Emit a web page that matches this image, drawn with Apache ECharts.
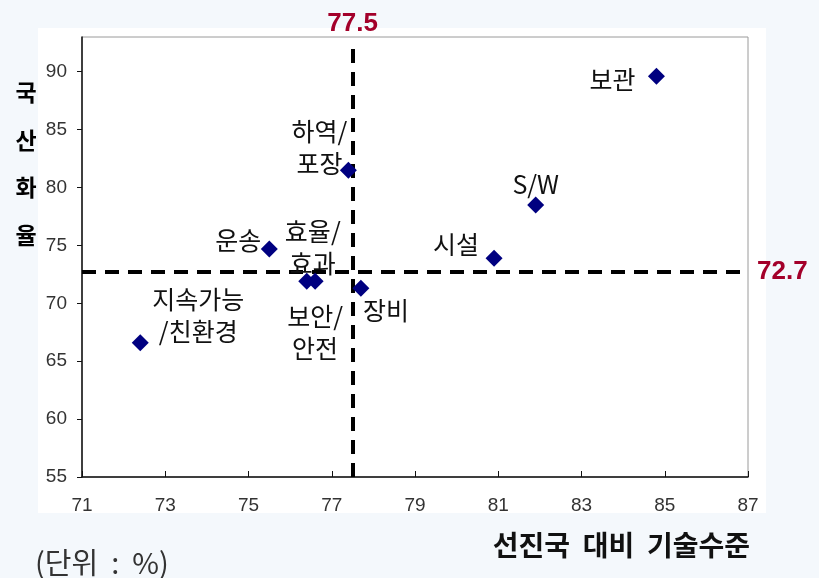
<!DOCTYPE html>
<html>
<head>
<meta charset="utf-8">
<script src="https://cdn.jsdelivr.net/npm/echarts@6/dist/echarts.min.js"></script>
<style>
  html, body { margin: 0; padding: 0; background: #f4f8fc; }
  #panel { position: absolute; left: 38px; top: 28px; width: 728px; height: 485px; background: #ffffff; }
  #chart { position: absolute; left: 0; top: 0; width: 819px; height: 578px; }
</style>
</head>
<body>
<div id="panel"></div>
<div id="chart"></div>
<script>
// ---- data ----
const names = ['보관', 'S/W', '시설', '하역/\n포장', '운송', '효율/\n효과', '보안/\n안전', '장비', '지속가능\n/친환경'];
const techLevel = [84.8, 81.9, 80.9, 77.4, 75.5, 76.4, 76.6, 77.7, 72.4];     // 선진국 대비 기술수준
const localization = [89.6, 78.5, 73.9, 81.5, 74.7, 71.9, 71.9, 71.3, 66.6];  // 국산화율
const avgTech = 77.5;
const avgLocal = 72.7;
const xTicks = { min: 71, max: 87, step: 2 };
const yTicks = { min: 55, max: 93, step: 5 };

// ---- label placement (style only) ----
const labelOffsets = [[-44, 3], [0, -20], [-38, -14], [-29, -23], [-31, -8], [6, -34], [0, 51], [25, 22], [58, -27]];

const KR = '"Noto Sans CJK KR", "Noto Sans", sans-serif';
const NUM = '"Liberation Sans", Arial, sans-serif';
const RED = '#a3002a';

const chart = echarts.init(document.getElementById('chart'), null, { renderer: 'canvas' });

const points = names.map((n, i) => ({
  name: n,
  value: [techLevel[i], localization[i]],
  label: { offset: labelOffsets[i] }
}));

chart.setOption({
  backgroundColor: 'transparent',
  animation: false,
  grid: { left: 82, top: 37, right: 71, bottom: 101, show: true, borderColor: '#9a9a9a', borderWidth: 1, backgroundColor: 'transparent' },
  xAxis: {
    type: 'value', min: xTicks.min, max: xTicks.max, interval: xTicks.step,
    axisLine: { show: true, onZero: false, lineStyle: { color: '#111', width: 1.5 } },
    axisTick: { show: true, inside: true, length: 6, lineStyle: { color: '#111' } },
    axisLabel: { margin: 19, fontSize: 19, color: '#333', fontFamily: NUM, showMaxLabel: true, showMinLabel: true },
    splitLine: { show: false }
  },
  yAxis: {
    type: 'value', min: yTicks.min, max: yTicks.max, interval: yTicks.step,
    axisLine: { show: true, onZero: false, lineStyle: { color: '#111', width: 1.5 } },
    axisTick: { show: true, inside: false, length: 5, lineStyle: { color: '#111' } },
    axisLabel: { margin: 15, fontSize: 19, color: '#333', fontFamily: NUM, showMaxLabel: false },
    splitLine: { show: false }
  },
  graphic: [
    { type: 'text', x: 26, y: 164, style: { text: '국\n산\n화\n율', font: 'bold 23px ' + KR, fill: '#000', textAlign: 'center', textVerticalAlign: 'middle', lineHeight: 47.5 } },
    { type: 'text', x: 750, y: 545, style: { text: '선진국  대비  기술수준', font: 'bold 28px ' + KR, fill: '#111', textAlign: 'right', textVerticalAlign: 'middle' } },
    { type: 'text', x: 35, y: 563, style: { text: '(단위  :  %)', font: '29px ' + KR, fill: '#333', textAlign: 'left', textVerticalAlign: 'middle' } }
  ],
  series: [{
    type: 'scatter',
    symbol: 'diamond',
    symbolSize: 17,
    itemStyle: { color: '#000080', opacity: 1 },
    z: 5,
    label: {
      show: true, position: 'inside', formatter: '{b}',
      fontSize: 25, lineHeight: 32, color: '#111', fontFamily: KR
    },
    data: points,
    markLine: {
      silent: true,
      symbol: ['none', 'none'],
      lineStyle: { color: '#000', width: 4, type: [14, 9] },
      label: { show: true, position: 'end', color: RED, fontWeight: 'bold', fontSize: 26, fontFamily: NUM },
      data: [
        [{ coord: [avgTech, yTicks.min], label: { distance: 6, formatter: String(avgTech) } }, { coord: [avgTech, 92.5] }],
        [{ coord: [xTicks.min, avgLocal], label: { distance: 9, formatter: String(avgLocal) } }, { coord: [xTicks.max, avgLocal] }]
      ]
    }
  }]
});
</script>
</body>
</html>
